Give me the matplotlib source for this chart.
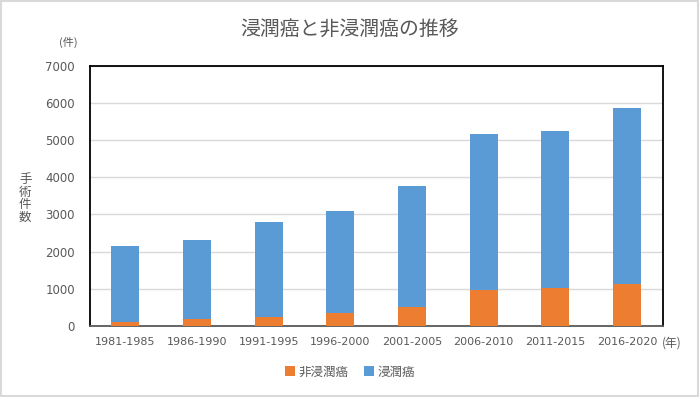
import numpy as np
import matplotlib
matplotlib.use("Agg")
import matplotlib.pyplot as plt
from matplotlib.patches import Rectangle

plt.rcParams["font.family"] = ["Noto Sans CJK JP", "DejaVu Sans"]

# data
periods = ["1981-1985", "1986-1990", "1991-1995", "1996-2000",
           "2001-2005", "2006-2010", "2011-2015", "2016-2020"]
non_invasive = [110, 190, 250, 340, 500, 960, 1010, 1130]
totals = [2140, 2320, 2790, 3100, 3770, 5150, 5230, 5870]
invasive = [t - n for t, n in zip(totals, non_invasive)]

ORANGE = "#ED7D31"
BLUE = "#5B9BD5"
TEXT = "#595959"

fig = plt.figure(figsize=(7.0, 3.97), dpi=100)
fig.patch.set_facecolor("white")
# light frame round the whole picture
fig.patches.append(Rectangle((0.001, 0.002), 0.996, 0.996, transform=fig.transFigure,
                             fill=False, edgecolor="#d9d9d9", linewidth=1.5))

ax = fig.add_axes([0.128, 0.179, 0.819, 0.656])
x = np.arange(len(periods))
ax.bar(x, non_invasive, width=0.39, color=ORANGE, label="非浸潤癌", zorder=3)
ax.bar(x, invasive, width=0.39, bottom=non_invasive, color=BLUE, label="浸潤癌", zorder=3)

ax.set_xlim(-0.5, len(periods) - 0.5)
ax.set_ylim(0, 7000)
ax.set_yticks(range(0, 7001, 1000))
ax.set_xticks(x)
ax.set_xticklabels(periods)
ax.grid(axis="y", color="#d9d9d9", linewidth=1, zorder=0)
ax.tick_params(axis="both", length=0, colors=TEXT)
ax.tick_params(axis="y", pad=10.5, labelsize=8.5)
ax.tick_params(axis="x", pad=8, labelsize=8)
for lab in ax.get_xticklabels() + ax.get_yticklabels():
    lab.set_family("DejaVu Sans")
for side in ["top", "right", "left"]:
    ax.spines[side].set_color("black")
    ax.spines[side].set_linewidth(1.3)
ax.spines["bottom"].set_color("#595959")
ax.spines["bottom"].set_linewidth(1.3)

fig.text(0.5, 0.925, "浸潤癌と非浸潤癌の推移", ha="center", va="center",
         fontsize=14.3, color=TEXT)
fig.text(0.097, 0.893, "(件)", ha="center", va="center", fontsize=8, color=TEXT)
fig.text(0.959, 0.137, "(年)", ha="center", va="center", fontsize=8.5, color=TEXT)
fig.text(0.036, 0.50, "手\n術\n件\n数", ha="center", va="center", fontsize=9,
         color=TEXT, linespacing=0.95)

fig.legend(loc="center", bbox_to_anchor=(0.5, 0.063), ncol=2, frameon=False,
           fontsize=9, handlelength=0.8, handleheight=0.8, handletextpad=0.3,
           columnspacing=1.2, labelcolor=TEXT)

fig.savefig("out.png", dpi=100)
